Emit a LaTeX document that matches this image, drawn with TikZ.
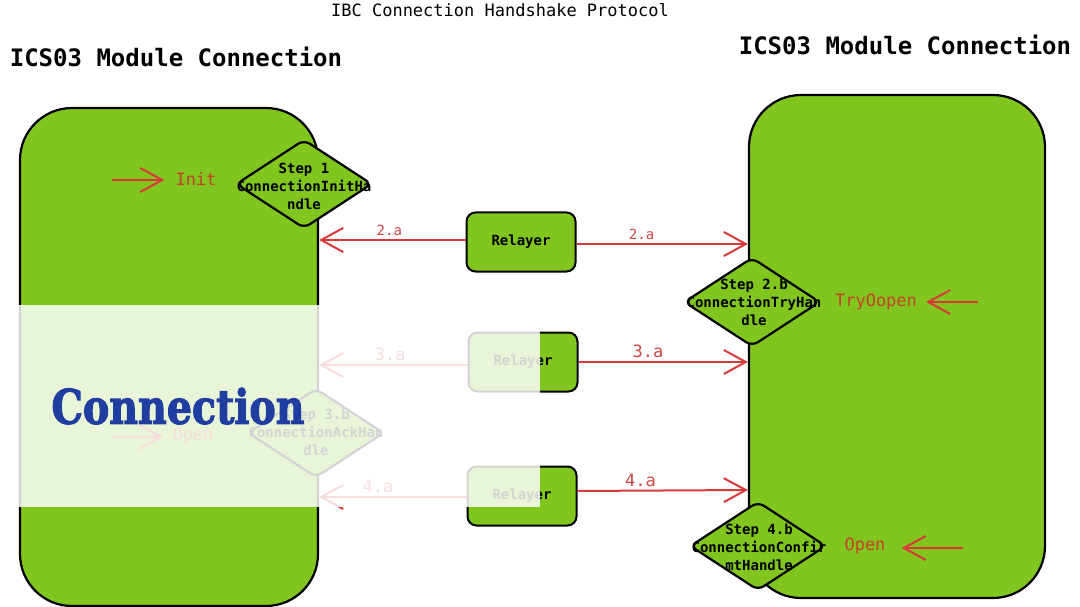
\documentclass[tikz,border=0pt]{standalone}
\usepackage{fontspec}
\usepackage{graphicx}
\setmonofont{DejaVu Sans Mono}
\newfontfamily\slabfont[FakeBold=2.5]{DejaVu Serif}
\usetikzlibrary{shapes.geometric,arrows.meta}
\definecolor{boxgreen}{RGB}{128,198,30}
\definecolor{arrowred}{RGB}{216,58,58}
\definecolor{labelred}{RGB}{205,70,70}
\definecolor{statered}{RGB}{196,64,40}
\definecolor{connblue}{RGB}{32,62,160}
\begin{document}
\begin{tikzpicture}[x=1pt,y=-1pt,
  bigbox/.style={draw=black, line width=2.2pt, fill=boxgreen, rounded corners=52pt, inner sep=0pt},
  relaybox/.style={draw=black, line width=2pt, fill=boxgreen, rounded corners=9pt, minimum width=109pt, minimum height=59pt, inner sep=0pt, font=\ttfamily\bfseries\fontsize{14}{16}\selectfont},
  stepdiam/.style={draw=black, line width=2.2pt, fill=boxgreen, diamond, minimum width=136pt, minimum height=89pt, inner sep=0pt, rounded corners=7pt},
  steptext/.style={align=center, font=\ttfamily\bfseries\fontsize{14}{18}\selectfont, inner sep=0pt},
  redarrow/.style={draw=arrowred, line width=2pt, -{Straight Barb[length=22pt,width=24pt]}},
  smalllabel/.style={text=labelred, font=\ttfamily\fontsize{14}{16}\selectfont, inner sep=3pt},
  biglabel/.style={text=labelred, font=\ttfamily\fontsize{17}{19}\selectfont, inner sep=3pt},
  statetext/.style={text=statered, font=\ttfamily\fontsize{17}{19}\selectfont, inner sep=0pt},
  header/.style={font=\ttfamily\bfseries\fontsize{24}{26}\selectfont, inner sep=0pt},
]
\useasboundingbox (0,0) rectangle (1080,607);
\fill[white] (0,0) rectangle (1080,607);

% titles
\node[font=\ttfamily\fontsize{17}{19}\selectfont, inner sep=0pt] (title) at (500,10) {IBC Connection Handshake Protocol};
\node[header] (lhead) at (176,57) {ICS03 Module Connection};
\node[header] (rhead) at (905,45) {ICS03 Module Connection};

% big modules
\node[bigbox, minimum width=298pt, minimum height=498pt] (L) at (169,357) {};
\node[bigbox, minimum width=296pt, minimum height=503pt] (R) at (897,346.5) {};

% step diamonds
\node[stepdiam] (d1) at (304,184) {};
\node[steptext] (t1) at (304,186) {Step 1\\ConnectionInitHa\\ndle};
\node[stepdiam] (d2) at (752,302) {};
\node[steptext] (t2) at (754,302) {Step 2.b\\ConnectionTryHan\\dle};
\node[stepdiam] (d3) at (316,433) {};
\node[steptext] (t3) at (316,432) {Step 3.b\\ConnectionAckHan\\dle};
\node[stepdiam] (d4) at (758,546) {};
\node[steptext] (t4) at (759,547) {Step 4.b\\ConnectionConfir\\mtHandle};

% relayers
\node[relaybox] (r1) at (521,242) {Relayer};
\node[relaybox] (r2) at (523,362) {Relayer};
\node[relaybox] (r3) at (522,496) {Relayer};

% relayer arrows
\draw[redarrow] (r1.west |- 0,240) -- (L.east |- 0,240) node[smalllabel, above, pos=0.52] {2.a};
\draw[redarrow] (r1.east |- 0,244) -- (R.west |- 0,244) node[smalllabel, above, pos=0.38] {2.a};
\draw[redarrow] (r2.west |- 0,365) -- (L.east |- 0,365) node[biglabel, above, pos=0.52] {3.a};
\draw[redarrow] (r2.east |- 0,362) -- (R.west |- 0,362) node[biglabel, above, pos=0.41] {3.a};
\draw[redarrow] (r3.west |- 0,497) -- (L.east |- 0,497) node[biglabel, above, pos=0.6] {4.a};
\draw[redarrow] (r3.east |- 0,491) -- (R.west |- 0,490) node[biglabel, above, pos=0.37] {4.a};

% states
\node[statetext] (init) at (196,179) {Init};
\coordinate (initsrc) at (112,180);
\draw[redarrow] (initsrc) -- (init.west |- initsrc) [shorten >=11pt];
\node[statetext] (openl) at (193,436) {Open};
\coordinate (openlsrc) at (112,437);
\draw[redarrow] (openlsrc) -- (openl.west |- openlsrc) [shorten >=9pt];
\node[statetext] (tryo) at (876,302) {TryOopen};
\coordinate (tryosrc) at (978,302);
\draw[redarrow] (tryosrc) -- (tryo.east |- tryosrc) [shorten >=9pt];
\node[statetext] (openr) at (865,546) {Open};
\coordinate (openrsrc) at (963,548);
\draw[redarrow] (openrsrc) -- (openr.east |- openrsrc) [shorten >=16pt];

% overlay
\fill[white, fill opacity=0.83] (18,305) rectangle (540,507);
\node[text=connblue, inner sep=0pt] (conn) at (178,406) {\resizebox{253pt}{36pt}{\slabfont\bfseries Connection}};
\end{tikzpicture}
\end{document}
